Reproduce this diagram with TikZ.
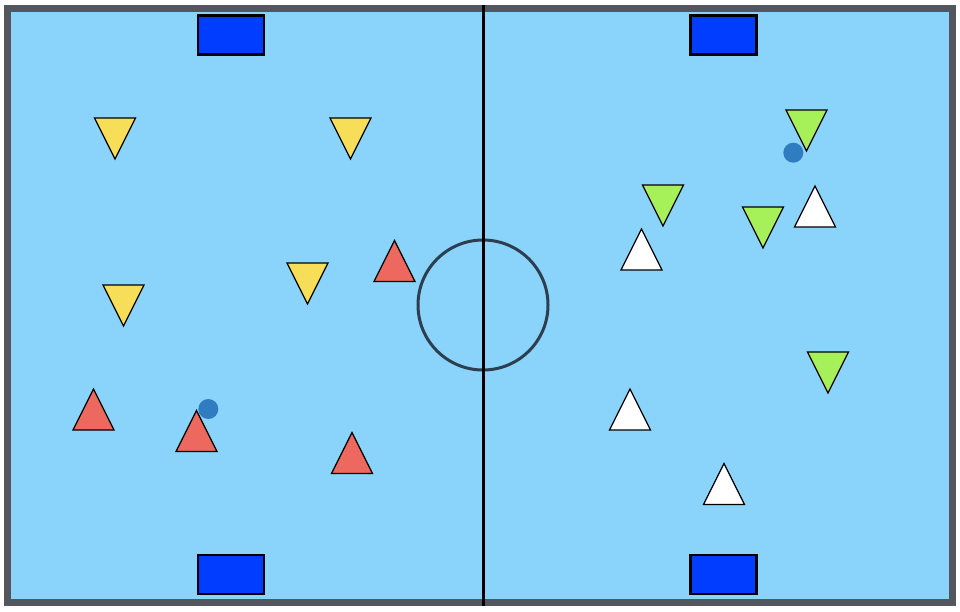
\documentclass[tikz,border=0pt]{standalone}
\usepackage{amsmath,amssymb}
\usetikzlibrary{positioning}

\definecolor{pitch}{RGB}{138,211,250}
\definecolor{rim}{RGB}{83,86,94}
\definecolor{goalblue}{RGB}{0,61,255}
\definecolor{teamyellow}{RGB}{246,222,88}
\definecolor{teamred}{RGB}{237,104,94}
\definecolor{teamgreen}{RGB}{166,240,90}
\definecolor{ballblue}{RGB}{47,124,192}
\definecolor{markline}{RGB}{44,62,80}

\begin{document}
\begin{tikzpicture}[x=1pt,y=-1pt,
	goal/.style={draw=black,fill=goalblue,line width=2.4pt,minimum width=66pt,minimum height=39pt,inner sep=0pt},
	ball/.style={circle,fill=ballblue,minimum size=20pt,inner sep=0pt},
	player/.style={draw=black,line width=1.3pt,line join=miter},
	yteam/.style={player,fill=teamyellow},
	rteam/.style={player,fill=teamred},
	gteam/.style={player,fill=teamgreen},
	wteam/.style={player,fill=white}]
	\useasboundingbox (0,0) rectangle (960,611);

	% pitch
	\draw[fill=pitch,draw=rim,line width=7pt] (7.5,8.5) rectangle (952,602.5);
	\coordinate (M) at (483,305);
	\coordinate (Mtop) at (483,5);
	\coordinate (Mbot) at (483,606);
	\draw[markline,line width=3pt] (M) circle (65);
	\draw[black,line width=3pt] (Mtop) -- (Mbot);

	% goals
	\node[goal] (goalTL) at (231,35) {};
	\node[goal] (goalTR) at (723.5,35) {};
	\node[goal] (goalBL) at (231,574.5) {};
	\node[goal] (goalBR) at (723.5,574.5) {};

	% yellow team (pointing down)
	\coordinate (Y1) at (115,138.5);
	\coordinate (Y2) at (350.5,138.5);
	\coordinate (Y3) at (307.5,283.5);
	\coordinate (Y4) at (123.5,305.5);
	\draw[yteam] (Y1) +(-20.5,-20.5) -- +(20.5,-20.5) -- +(0,20.5) -- cycle;
	\draw[yteam] (Y2) +(-20.5,-20.5) -- +(20.5,-20.5) -- +(0,20.5) -- cycle;
	\draw[yteam] (Y3) +(-20.5,-20.5) -- +(20.5,-20.5) -- +(0,20.5) -- cycle;
	\draw[yteam] (Y4) +(-20.5,-20.5) -- +(20.5,-20.5) -- +(0,20.5) -- cycle;

	% red team (pointing up)
	\coordinate (R1) at (394.5,261);
	\coordinate (R2) at (93.5,409.5);
	\coordinate (R3) at (196.5,431);
	\coordinate (R4) at (352,453);
	\draw[rteam] (R1) +(-20.5,20.5) -- +(20.5,20.5) -- +(0,-20.5) -- cycle;
	\draw[rteam] (R2) +(-20.5,20.5) -- +(20.5,20.5) -- +(0,-20.5) -- cycle;
	\draw[rteam] (R3) +(-20.5,20.5) -- +(20.5,20.5) -- +(0,-20.5) -- cycle;
	\draw[rteam] (R4) +(-20.5,20.5) -- +(20.5,20.5) -- +(0,-20.5) -- cycle;

	% green team (pointing down)
	\coordinate (G1) at (806.5,130.5);
	\coordinate (G2) at (663,205.5);
	\coordinate (G3) at (763,227.5);
	\coordinate (G4) at (828,372.5);
	\draw[gteam] (G1) +(-20.5,-20.5) -- +(20.5,-20.5) -- +(0,20.5) -- cycle;
	\draw[gteam] (G2) +(-20.5,-20.5) -- +(20.5,-20.5) -- +(0,20.5) -- cycle;
	\draw[gteam] (G3) +(-20.5,-20.5) -- +(20.5,-20.5) -- +(0,20.5) -- cycle;
	\draw[gteam] (G4) +(-20.5,-20.5) -- +(20.5,-20.5) -- +(0,20.5) -- cycle;

	% white team (pointing up)
	\coordinate (W1) at (815,206.5);
	\coordinate (W2) at (641.5,249.5);
	\coordinate (W3) at (630,409.5);
	\coordinate (W4) at (724,484);
	\draw[wteam] (W1) +(-20.5,20.5) -- +(20.5,20.5) -- +(0,-20.5) -- cycle;
	\draw[wteam] (W2) +(-20.5,20.5) -- +(20.5,20.5) -- +(0,-20.5) -- cycle;
	\draw[wteam] (W3) +(-20.5,20.5) -- +(20.5,20.5) -- +(0,-20.5) -- cycle;
	\draw[wteam] (W4) +(-20.5,20.5) -- +(20.5,20.5) -- +(0,-20.5) -- cycle;

	% balls
	\node[ball] (ballL) at (208.3,409) {};
	\node[ball] (ballR) at (793.3,152.7) {};

\end{tikzpicture}
\end{document}
